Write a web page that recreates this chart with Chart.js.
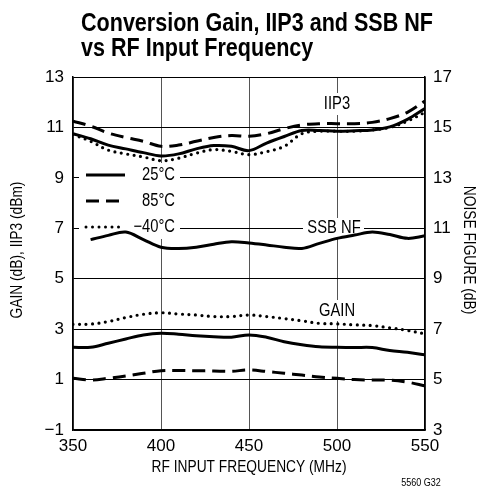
<!DOCTYPE html>
<html>
<head>
<meta charset="utf-8">
<script src="https://cdn.jsdelivr.net/npm/chart.js@4"></script>
<style>
  html, body { margin: 0; padding: 0; background: #fff; }
  canvas { display: block; }
</style>
</head>
<body>
<canvas id="chart" width="479" height="495"></canvas>
<script>
// RF input frequency (MHz), 10 MHz steps
const freqs = [350, 360, 370, 380, 390, 400, 410, 420, 430, 440, 450, 460, 470, 480, 490, 500, 510, 520, 530, 540, 550];

// IIP3 (dBm)
const iip3_25 = [10.75, 10.55, 10.3, 10.15, 10.0, 9.87, 9.95, 10.15, 10.28, 10.25, 10.08, 10.38, 10.64, 10.88, 10.88, 10.85, 10.87, 10.9, 11.02, 11.32, 11.75];
const iip3_85 = [11.25, 11.05, 10.78, 10.6, 10.45, 10.25, 10.3, 10.45, 10.6, 10.68, 10.65, 10.75, 10.95, 11.1, 11.15, 11.15, 11.15, 11.2, 11.35, 11.6, 12.05];
const iip3_m40 = [10.72, 10.45, 10.1, 9.95, 9.83, 9.68, 9.78, 9.98, 10.12, 10.05, 9.92, 10.04, 10.25, 10.75, 10.85, 10.85, 10.85, 10.9, 11.0, 11.25, 11.6];

// SSB noise figure (dB), right axis, curve starts at 360 MHz
const nf_25 = [null, 10.55, 10.72, 10.85, 10.55, 10.25, 10.2, 10.25, 10.37, 10.47, 10.42, 10.34, 10.25, 10.2, 10.4, 10.6, 10.73, 10.85, 10.75, 10.6, 10.7];

// Conversion gain (dB)
const gain_25 = [2.28, 2.28, 2.44, 2.61, 2.77, 2.84, 2.8, 2.74, 2.7, 2.68, 2.77, 2.68, 2.5, 2.38, 2.3, 2.28, 2.27, 2.27, 2.15, 2.08, 1.98];
const gain_85 = [1.05, 0.98, 1.05, 1.14, 1.25, 1.35, 1.36, 1.35, 1.34, 1.33, 1.38, 1.32, 1.25, 1.18, 1.1, 1.05, 1.0, 0.98, 0.98, 0.9, 0.75];
const gain_m40 = [3.19, 3.2, 3.3, 3.46, 3.59, 3.65, 3.6, 3.56, 3.5, 3.5, 3.56, 3.5, 3.42, 3.33, 3.23, 3.21, 3.17, 3.14, 3.05, 2.95, 2.81];

const legendItems = ['25°C', '85°C', '−40°C'];

const FONT = '"Liberation Sans", Arial, Helvetica, sans-serif';

const toXY = (vals) => freqs.map((f, i) => ({ x: f, y: vals[i] }));

const solid = { borderColor: '#000', borderWidth: 3, pointRadius: 0, tension: 0.35, fill: false };
const dashed = { ...solid, borderDash: [13, 7] };
const dotted = { ...solid, borderDash: [0, 6.5], borderCapStyle: 'round', borderWidth: 3.2 };

// condensed-looking text: squeeze horizontally
function narrowText(ctx, text, x, y, font, sx, align, rot) {
  ctx.save();
  ctx.translate(x, y);
  if (rot) ctx.rotate(rot);
  ctx.scale(sx, 1);
  ctx.font = font;
  ctx.textAlign = align;
  ctx.fillText(text, 0, 0);
  ctx.restore();
}

// text labels + legend, drawn on white patches that cut the grid
const annotations = {
  id: 'annotations',
  beforeDatasetsDraw(chart) {
    const ctx = chart.ctx;
    ctx.save();
    ctx.fillStyle = '#fff';
    ctx.fillRect(79, 163, 101, 76);
    ctx.fillRect(303, 218, 61, 20);
    ctx.fillRect(316, 300, 43, 21);
    ctx.fillRect(319, 93, 36, 22);

    ctx.fillStyle = '#000';
    ctx.textBaseline = 'middle';
    const f = '18px ' + FONT;
    narrowText(ctx, 'IIP3', 337, 104, f, 0.82, 'center');
    narrowText(ctx, 'SSB NF', 334, 228, f, 0.82, 'center');
    narrowText(ctx, 'GAIN', 337, 311, f, 0.82, 'center');

    // legend
    const rows = [175, 201, 227];
    const dashes = [[], [13, 7], [0, 6.5]];
    rows.forEach((y, i) => {
      ctx.beginPath();
      ctx.setLineDash(dashes[i]);
      ctx.lineWidth = 3;
      ctx.lineCap = i === 2 ? 'round' : 'butt';
      ctx.strokeStyle = '#000';
      ctx.moveTo(86, y);
      ctx.lineTo(i === 2 ? 124 : 125, y);
      ctx.stroke();
      ctx.setLineDash([]);
      narrowText(ctx, legendItems[i], 175, y, f, 0.82, 'right');
    });
    ctx.restore();
  },
  afterDraw(chart) {
    const ctx = chart.ctx;
    ctx.save();
    ctx.fillStyle = '#000';
    ctx.textBaseline = 'alphabetic';
    const tf = 'bold 25px ' + FONT;
    ctx.font = tf;
    const sx = 352 / ctx.measureText('Conversion Gain, IIP3 and SSB NF').width;
    narrowText(ctx, 'Conversion Gain, IIP3 and SSB NF', 81, 31, tf, sx, 'left');
    narrowText(ctx, 'vs RF Input Frequency', 81, 56, tf, sx, 'left');

    ctx.textBaseline = 'middle';
    const af = '16px ' + FONT;
    narrowText(ctx, 'RF INPUT FREQUENCY (MHz)', 249, 468, af, 0.86, 'center');
    narrowText(ctx, 'GAIN (dB), IIP3 (dBm)', 18, 250, af, 0.86, 'center', -Math.PI / 2);
    narrowText(ctx, 'NOISE FIGURE (dB)', 468, 250, af, 0.86, 'center', Math.PI / 2);
    narrowText(ctx, '5560 G32', 421, 483, '11px ' + FONT, 0.82, 'center');
    ctx.restore();
  }
};

new Chart(document.getElementById('chart'), {
  type: 'line',
  data: {
    datasets: [
      { ...solid, data: toXY(iip3_25), yAxisID: 'y' },
      { ...dashed, data: toXY(iip3_85), yAxisID: 'y' },
      { ...dotted, data: toXY(iip3_m40), yAxisID: 'y' },
      { ...solid, data: toXY(nf_25), yAxisID: 'y2', spanGaps: false },
      { ...solid, data: toXY(gain_25), yAxisID: 'y' },
      { ...dashed, data: toXY(gain_85), yAxisID: 'y' },
      { ...dotted, data: toXY(gain_m40), yAxisID: 'y' },
    ],
  },
  options: {
    responsive: false,
    animation: false,
    layout: { padding: { top: 77, left: 0, right: 0, bottom: 0 } },
    plugins: { legend: { display: false }, tooltip: { enabled: false } },
    scales: {
      x: {
        type: 'linear',
        min: 350,
        max: 550,
        afterFit: (s) => { s.height = 65; },
        ticks: { stepSize: 50, padding: 6, color: '#000', font: { family: FONT, size: 17 } },
        grid: { color: '#555', lineWidth: 1, drawTicks: false },
        border: { color: '#000', width: 1.5 },
      },
      y: {
        position: 'left',
        min: -1,
        max: 13,
        afterFit: (s) => { s.width = 73; },
        ticks: {
          stepSize: 2,
          padding: 9,
          color: '#000',
          font: { family: FONT, size: 17 },
          callback: (v) => String(v).replace('-', '−'),
        },
        grid: { color: '#000', lineWidth: 1, drawTicks: false },
        border: { color: '#000', width: 1.5 },
      },
      y2: {
        position: 'right',
        min: 3,
        max: 17,
        afterFit: (s) => { s.width = 54; },
        ticks: { stepSize: 2, padding: 8, color: '#000', font: { family: FONT, size: 17 } },
        grid: { drawOnChartArea: false, drawTicks: false },
        border: { color: '#000', width: 1.5 },
      },
    },
  },
  plugins: [annotations],
});
</script>
</body>
</html>
